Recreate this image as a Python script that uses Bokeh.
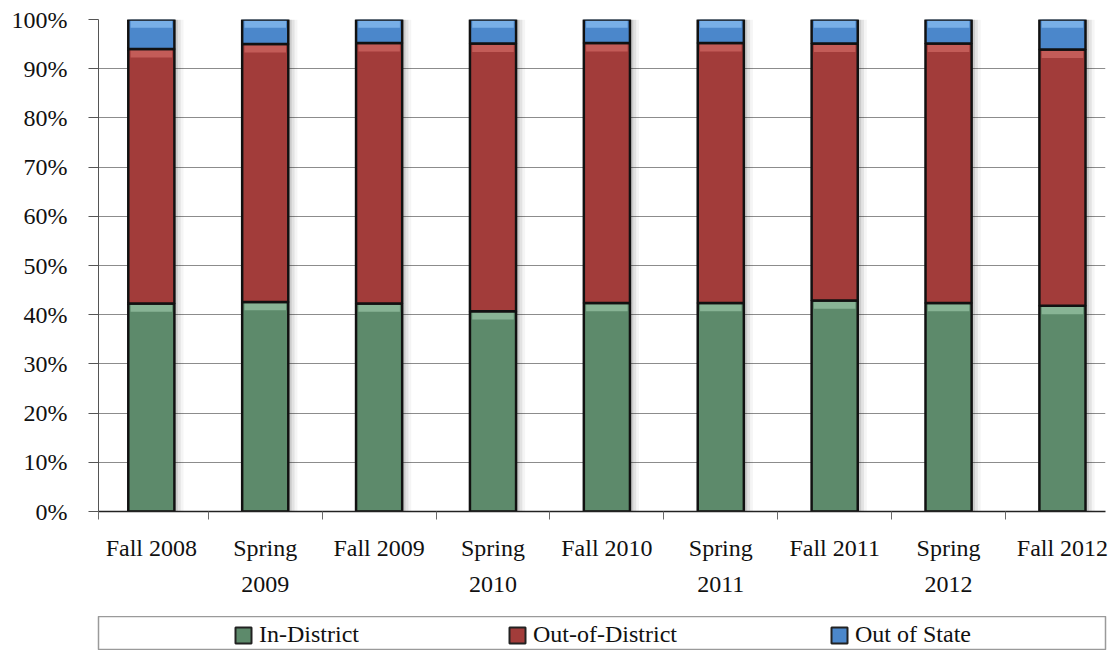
import numpy as np
from bokeh.plotting import figure
from bokeh.layouts import column
from bokeh.models import (FixedTicker, LinearAxis, Range1d, Legend, LegendItem)
from bokeh.embed import file_html
from bokeh.resources import INLINE

categories = ["Fall 2008", "Spring 2009", "Fall 2009", "Spring 2010", "Fall 2010",
              "Spring 2011", "Fall 2011", "Spring 2012", "Fall 2012"]
in_district = [42.3, 42.6, 42.3, 40.7, 42.4, 42.4, 42.9, 42.4, 41.8]
out_of_district = [51.7, 52.4, 52.9, 54.4, 52.8, 52.8, 52.2, 52.7, 52.1]
out_of_state = [6.0, 5.0, 4.8, 4.9, 4.8, 4.8, 4.9, 4.9, 6.1]
series_names = ["In-District", "Out-of-District", "Out of State"]
y_ticks = list(range(0, 101, 10))

FONT = "Liberation Serif"
FS = "24px"

x = np.arange(len(categories))
line1, line2 = [], []
for c in categories:
    first, year = c.split(" ")
    if first == "Spring":
        line1.append(first)
        line2.append(year)
    else:
        line1.append(c)
        line2.append("")

X0, X1 = -0.464, 8.378
p = figure(width=1114, height=616, x_range=Range1d(X0, X1), y_range=Range1d(0, 100),
           output_backend="svg", toolbar_location=None,
           min_border_left=95, min_border_right=9, min_border_top=19, min_border_bottom=105)
p.outline_line_color = None
p.background_fill_color = "white"
p.border_fill_color = "white"
p.xgrid.visible = False
p.ygrid.ticker = FixedTicker(ticks=y_ticks)
p.ygrid.grid_line_color = "#8c8c8c"
p.ygrid.grid_line_width = 1

# y axis
ya = p.yaxis[0]
ya.ticker = FixedTicker(ticks=y_ticks, minor_ticks=[])
ya.major_label_overrides = {t: f"{t}%" for t in y_ticks}
ya.major_tick_out = 10
ya.major_tick_in = 0
ya.minor_tick_out = 0
ya.minor_tick_in = 0
ya.major_label_standoff = 21
ya.axis_line_color = "#555555"
ya.major_tick_line_color = "#555555"
ya.major_label_text_font = FONT
ya.major_label_text_font_size = FS
ya.major_label_text_color = "#111111"

# x axis (first label line + boundary ticks)
xa = p.xaxis[0]
xa.ticker = FixedTicker(ticks=list(x), minor_ticks=[X0] + list(x[1:] - 0.5))
xa.major_label_overrides = {int(i): l for i, l in zip(x, line1)}
xa.major_tick_out = 0
xa.major_tick_in = 0
xa.minor_tick_out = 8
xa.minor_tick_in = 0
xa.minor_tick_line_color = "#6a6a6a"
xa.axis_line_color = "#222222"
xa.axis_line_width = 1.5
xa.major_label_standoff = 15
xa.major_label_text_font = FONT
xa.major_label_text_font_size = FS
xa.major_label_text_color = "#111111"

# second label line
xa2 = LinearAxis(ticker=FixedTicker(ticks=list(x), minor_ticks=[]),
                 major_label_overrides={int(i): l for i, l in zip(x, line2)})
xa2.axis_line_color = None
xa2.major_tick_line_color = None
xa2.minor_tick_line_color = None
xa2.major_tick_out = 0
xa2.major_tick_in = 0
xa2.major_label_standoff = 13
xa2.major_label_text_font = FONT
xa2.major_label_text_font_size = FS
xa2.major_label_text_color = "#111111"
p.add_layout(xa2, "below")

# stacking
ind = np.array(in_district)
ood = np.array(out_of_district)
oos = np.array(out_of_state)
bottoms = [np.zeros_like(ind), ind, ind + ood]
tops = [ind, ind + ood, ind + ood + oos]
fills = ["#5d8a6b", "#a23c3a", "#4b87cb"]
bands = ["#8fbb9c", "#c9625e", "#80b6ec"]
W = 0.405

# soft shadow on the right
for off, a in [(0.03, 0.10), (0.055, 0.07), (0.08, 0.04)]:
    p.vbar(x=x + off, bottom=0, top=tops[2], width=W, fill_color="black", fill_alpha=a, line_color=None)

for b, t, fc, bc in zip(bottoms, tops, fills, bands):
    p.vbar(x=x, bottom=b, top=t, width=W, fill_color=fc, line_color=None)
    p.vbar(x=x, bottom=t - 1.7, top=t, width=W * 0.9, fill_color=bc, fill_alpha=0.85, line_color=None)
    p.vbar(x=x, bottom=b, top=t, width=W, fill_color=None, line_color="#111111", line_width=2.5)

# legend strip (boxed), below the chart
p2 = figure(width=1114, height=34, x_range=Range1d(0, 1), y_range=Range1d(0, 1),
            x_axis_type=None, y_axis_type=None, output_backend="svg", toolbar_location=None,
            min_border_left=98, min_border_right=7, min_border_top=0, min_border_bottom=0)
p2.grid.visible = False
p2.outline_line_color = "#9a9a9a"
p2.outline_line_width = 1.5
p2.background_fill_color = "white"
p2.border_fill_color = "white"

leg_x = [135, 409, 731]
for name, fc, lx in zip(series_names, fills, leg_x):
    # legend-only renderers (no visible data)
    fr = p2.vbar(x=[np.nan], top=[np.nan], width=0.1, fill_color=fc, line_color=None)
    orr = p2.vbar(x=[np.nan], top=[np.nan], width=0.1, fill_color=None, line_color="#222222", line_width=2)
    lg = Legend(items=[LegendItem(label=name, renderers=[fr, orr])], location=(lx, 2),
                orientation="horizontal", padding=0, margin=0, spacing=0,
                border_line_color=None, background_fill_alpha=0,
                glyph_width=20, glyph_height=20, label_standoff=6,
                label_text_font=FONT, label_text_font_size=FS, label_text_color="#111111")
    p2.add_layout(lg, "center")

layout = column(p, p2, spacing=0)
open("out.html", "w").write(file_html(layout, INLINE))
